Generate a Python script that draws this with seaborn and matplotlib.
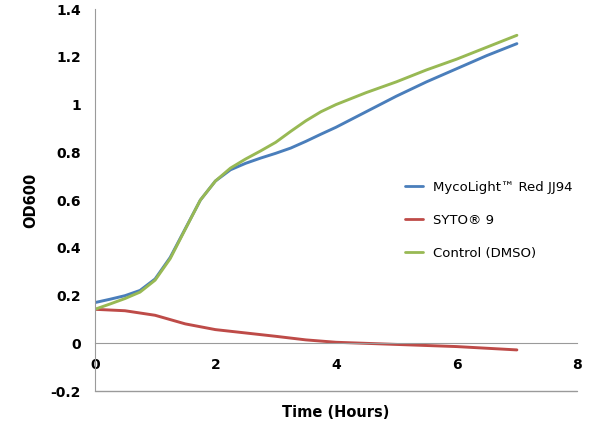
import matplotlib
matplotlib.use("Agg")
import matplotlib.pyplot as plt
import numpy as np
import pandas as pd
import seaborn as sns

# values
hours_mt = [0, 0.25, 0.5, 0.75, 1.0, 1.25, 1.5, 1.75, 2.0, 2.25, 2.5, 2.75, 3.0, 3.25, 3.5, 3.75,
            4.0, 4.5, 5.0, 5.5, 6.0, 6.5, 7.0]
od_mycolight = [0.171, 0.185, 0.200, 0.222, 0.270, 0.360, 0.480, 0.600, 0.680, 0.727, 0.754, 0.776, 0.796,
                0.818, 0.846, 0.876, 0.905, 0.970, 1.035, 1.095, 1.150, 1.205, 1.255]
od_control = [0.143, 0.165, 0.188, 0.215, 0.265, 0.355, 0.478, 0.600, 0.680, 0.734, 0.772, 0.806, 0.842,
              0.888, 0.932, 0.970, 1.000, 1.050, 1.095, 1.145, 1.190, 1.240, 1.290]
hours_syto = [0, 0.5, 1.0, 1.5, 2.0, 2.5, 3.0, 3.5, 4.0, 5.0, 6.0, 7.0]
od_syto = [0.143, 0.137, 0.118, 0.082, 0.058, 0.044, 0.030, 0.015, 0.005, -0.004, -0.013, -0.027]

labels = ["MycoLight\u2122 Red JJ94", "SYTO\u00ae 9", "Control (DMSO)"]
colors = ["#4A7EBB", "#BE4B48", "#98B954"]

df = pd.concat([
    pd.DataFrame({"time": hours_mt, "od": od_mycolight, "dye": labels[0]}),
    pd.DataFrame({"time": hours_syto, "od": od_syto, "dye": labels[1]}),
    pd.DataFrame({"time": hours_mt, "od": od_control, "dye": labels[2]}),
], ignore_index=True)

sns.set_style("white")
plt.rcParams["font.family"] = ["DejaVu Sans"]
plt.rcParams["text.color"] = "black"

fig = plt.figure(figsize=(6, 4.29), dpi=100)
ax = fig.add_axes([0.158, 0.088, 0.804, 0.891])

sns.lineplot(data=df, x="time", y="od", hue="dye", hue_order=labels,
             palette=colors, linewidth=2.1, ax=ax)

ax.set_xlim(0, 8)
ax.set_ylim(-0.2, 1.4)
ax.set_xticks([0, 2, 4, 6, 8])
ax.set_yticks([-0.2, 0, 0.2, 0.4, 0.6, 0.8, 1.0, 1.2, 1.4])
ax.set_yticklabels(["-0.2", "0", "0.2", "0.4", "0.6", "0.8", "1", "1.2", "1.4"])

gray = "#9a9a9a"
for s in ["top", "right"]:
    ax.spines[s].set_visible(False)
ax.spines["left"].set_color(gray)
ax.spines["bottom"].set_position(("data", 0))
ax.spines["bottom"].set_color(gray)
ax.axhline(-0.2, color=gray, linewidth=1.0, clip_on=False, zorder=0)

ax.tick_params(axis="y", direction="out", length=5, color=gray, width=1,
               labelsize=10, pad=5, labelcolor="black")
ax.tick_params(axis="x", direction="inout", length=7, color=gray, width=1,
               labelsize=10, pad=7, labelcolor="black")
for t in ax.get_xticklabels() + ax.get_yticklabels():
    t.set_fontweight("bold")

ax.set_xlabel("Time (Hours)", fontsize=10.5, fontweight="bold", color="black")
ax.xaxis.set_label_coords(0.5, -0.035)
ax.set_ylabel("OD600", fontsize=10.5, fontweight="bold", color="black")
ax.yaxis.set_label_coords(-0.118, 0.5)

leg = ax.legend(loc="center left", bbox_to_anchor=(0.618, 0.447), frameon=False,
                fontsize=9.5, handlelength=1.4, handletextpad=0.7, labelspacing=1.5)
for line in leg.get_lines():
    line.set_linewidth(2.0)

fig.savefig("out.png", dpi=100)
